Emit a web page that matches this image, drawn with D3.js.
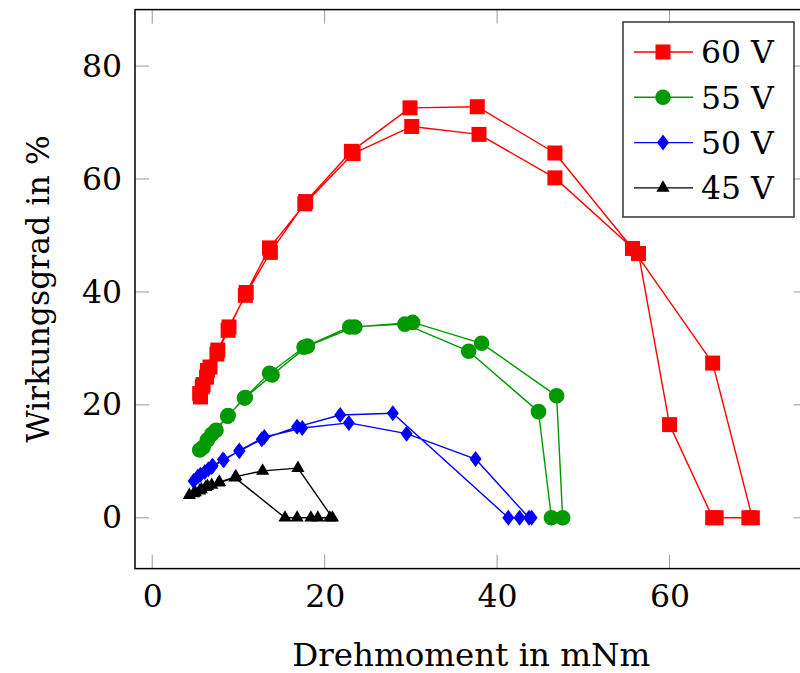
<!DOCTYPE html>
<html>
<head>
<meta charset="utf-8">
<script src="https://cdn.jsdelivr.net/npm/d3@7"></script>
<style>
  html, body { margin: 0; padding: 0; background: #fff; }
  svg { display: block; }
  text { font-family: "DejaVu Serif", serif; fill: #000; }
</style>
</head>
<body>
<svg id="chart" width="800" height="673"></svg>
<script>
// ---------- data ----------
const seriesLabels = ["60 V", "55 V", "50 V", "45 V"];
const xTicks = [0, 20, 40, 60];
const yTicks = [0, 20, 40, 60, 80];

const series60 = [
  [5.6, 21.4], [5.8, 23.2], [6.3, 24.9], [6.7, 26.7], [7.6, 29.7], [8.9, 33.8],
  [10.8, 39.4], [13.7, 47.0], [17.8, 56.0], [23.1, 64.9], [29.9, 72.6], [37.7, 72.8],
  [46.7, 64.6], [55.7, 47.7], [65.0, 27.4], [69.6, 0], [69.2, 0], [65.4, 0], [65.0, 0],
  [60.0, 16.5], [56.4, 46.8], [46.7, 60.2], [37.9, 67.9], [30.1, 69.3], [23.3, 64.5],
  [17.7, 55.6], [13.6, 47.8], [10.9, 39.9], [8.8, 33.2], [7.5, 29.0], [6.4, 26.1],
  [5.9, 23.6], [5.5, 22.0]
];
const series55 = [
  [5.5, 12.0], [6.4, 13.8], [7.4, 15.5], [8.75, 18.0], [10.7, 21.2], [13.6, 25.6],
  [17.6, 30.2], [22.9, 33.8], [29.3, 34.3], [36.7, 29.5], [44.8, 18.8], [46.3, 0],
  [47.6, 0], [46.9, 21.6], [38.2, 30.9], [30.2, 34.6], [23.5, 33.8], [18.0, 30.4],
  [13.9, 25.3], [10.8, 21.3], [8.8, 18.1], [6.9, 14.8], [5.9, 12.5]
];
const series50 = [
  [4.8, 6.5], [5.6, 7.6], [6.5, 8.6], [7.0, 9.2], [8.2, 10.3], [10.1, 11.8],
  [12.7, 13.9], [16.8, 16.1], [21.8, 18.2], [27.9, 18.5], [41.3, 0], [42.6, 0],
  [44.0, 0], [43.7, 0], [37.5, 10.4], [29.5, 14.9], [22.8, 16.8], [17.4, 15.9],
  [13.0, 14.3], [10.1, 11.9], [8.3, 10.2], [6.9, 9.0], [6.1, 8.1], [5.3, 7.3]
];
const series45 = [
  [4.3, 4.0], [5.0, 4.5], [5.7, 5.0], [6.4, 5.6], [7.8, 6.3], [9.7, 7.3],
  [12.8, 8.3], [16.9, 8.8], [20.9, 0], [20.6, 0], [19.2, 0], [18.4, 0], [16.8, 0],
  [15.4, 0], [9.6, 7.1], [7.7, 6.2], [6.9, 5.8], [6.2, 5.4], [5.5, 4.8], [4.8, 4.3]
];
const seriesData = [series60, series55, series50, series45];
const seriesColors = ["#ff0000", "#009900", "#0000ff", "#000000"];
const markerKinds = ["square", "circle", "diamond", "triangle"];

// ---------- layout ----------
const svg = d3.select("#chart");
const plotL = 135, plotR = 807.5, plotT = 9.6, plotB = 568.6;
const x = d3.scaleLinear().domain([-2, 76]).range([plotL, plotR]);
const y = d3.scaleLinear().domain([-9, 90]).range([plotB, plotT]);

const diamondType = {
  draw(ctx, size) {
    const h = 8, w = 6;
    ctx.moveTo(0, -h); ctx.lineTo(w, 0); ctx.lineTo(0, h); ctx.lineTo(-w, 0); ctx.closePath();
  }
};
const triangleType = {
  draw(ctx, size) {
    const r = 7.6;
    ctx.moveTo(0, -r);
    ctx.lineTo(r * Math.sin(Math.PI / 3), r * 0.5);
    ctx.lineTo(-r * Math.sin(Math.PI / 3), r * 0.5);
    ctx.closePath();
  }
};
const squareType = {
  draw(ctx, size) { const s = 7.5; ctx.rect(-s, -s, 2 * s, 2 * s); }
};
const circleType = {
  draw(ctx, size) { ctx.arc(0, 0, 7.8, 0, 2 * Math.PI); }
};
const symbolFor = { square: squareType, circle: circleType, diamond: diamondType, triangle: triangleType };

// ---------- ticks (inside, gray) ----------
const tickG = svg.append("g");
const tl = 14;
xTicks.forEach(t => {
  tickG.append("line").attr("x1", x(t)).attr("x2", x(t)).attr("y1", plotB).attr("y2", plotB - tl)
    .attr("stroke", "#999").attr("stroke-width", 1);
  tickG.append("line").attr("x1", x(t)).attr("x2", x(t)).attr("y1", plotT).attr("y2", plotT + tl)
    .attr("stroke", "#999").attr("stroke-width", 1);
});
yTicks.forEach(t => {
  tickG.append("line").attr("x1", plotL).attr("x2", plotL + tl).attr("y1", y(t)).attr("y2", y(t))
    .attr("stroke", "#999").attr("stroke-width", 1);
  tickG.append("line").attr("x1", plotR).attr("x2", plotR - tl).attr("y1", y(t)).attr("y2", y(t))
    .attr("stroke", "#999").attr("stroke-width", 1);
});

// ---------- axes via d3 (labels only) ----------
const xAxis = d3.axisBottom(x).tickValues(xTicks).tickSize(0).tickPadding(16).tickFormat(d3.format("d"));
const yAxis = d3.axisLeft(y).tickValues(yTicks).tickSize(0).tickPadding(13).tickFormat(d3.format("d"));
const gx = svg.append("g").attr("transform", `translate(0,${plotB})`).call(xAxis);
const gy = svg.append("g").attr("transform", `translate(${plotL},0)`).call(yAxis);
[gx, gy].forEach(g => {
  g.select(".domain").remove();
  g.selectAll("text").style("font-family", '"DejaVu Serif", serif').style("font-size", "31.5px").attr("fill", "#000");
});

// ---------- series ----------
const line = d3.line().x(d => x(d[0])).y(d => y(d[1]));
seriesData.forEach((data, i) => {
  const g = svg.append("g");
  g.append("path").datum(data).attr("d", line).attr("fill", "none")
    .attr("stroke", seriesColors[i]).attr("stroke-width", 1.4).attr("stroke-linejoin", "round");
  const sym = d3.symbol().type(symbolFor[markerKinds[i]]);
  g.selectAll("path.m").data(data).enter().append("path").attr("class", "m")
    .attr("d", sym).attr("transform", d => `translate(${x(d[0])},${y(d[1])})`)
    .attr("fill", seriesColors[i]);
});

// ---------- frame ----------
svg.append("rect").attr("x", plotL).attr("y", plotT).attr("width", plotR - plotL).attr("height", plotB - plotT)
  .attr("fill", "none").attr("stroke", "#000").attr("stroke-width", 1.5);

// ---------- axis titles ----------
svg.append("text").attr("x", (plotL + plotR) / 2).attr("y", 666).attr("text-anchor", "middle")
  .style("font-size", "32.5px").text("Drehmoment in mNm");
svg.append("text").attr("transform", `translate(49,${(plotT + plotB) / 2}) rotate(-90)`)
  .attr("text-anchor", "middle").style("font-size", "31.5px").text("Wirkungsgrad in %");

// ---------- legend ----------
const lg = svg.append("g");
lg.append("rect").attr("x", 623).attr("y", 22).attr("width", 171).attr("height", 195)
  .attr("fill", "#fff").attr("stroke", "#333").attr("stroke-width", 1.5);
seriesLabels.forEach((lab, i) => {
  const cy = 52 + i * 45.3;
  lg.append("line").attr("x1", 634).attr("x2", 693).attr("y1", cy).attr("y2", cy)
    .attr("stroke", seriesColors[i]).attr("stroke-width", 1.4);
  lg.append("path").attr("d", d3.symbol().type(symbolFor[markerKinds[i]])())
    .attr("transform", `translate(663,${cy})`).attr("fill", seriesColors[i]);
  lg.append("text").attr("x", 701).attr("y", cy).attr("dy", "0.36em")
    .style("font-size", "31.5px").text(lab);
});
</script>
</body>
</html>
